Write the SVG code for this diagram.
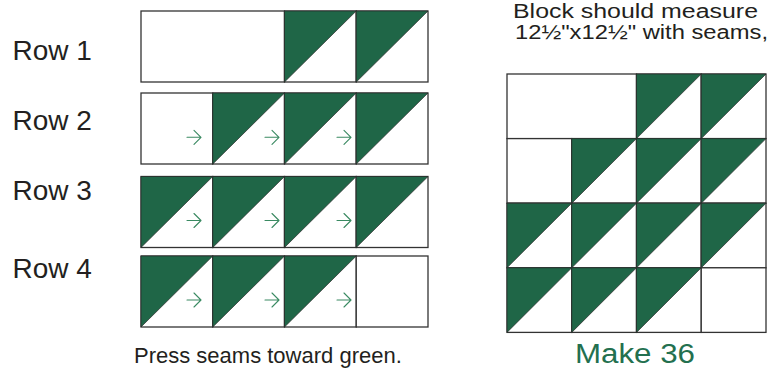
<svg xmlns="http://www.w3.org/2000/svg" width="772" height="370" viewBox="0 0 772 370">
<style>
.bg{fill:#ffffff}
.c{fill:#ffffff;stroke:#333333;stroke-width:1.3}
.g{fill:#1f6647;stroke:#2a2a2a;stroke-width:0.7;stroke-linejoin:miter}
.arr{fill:none;stroke:#3a8a62;stroke-width:1.1;stroke-linecap:round;stroke-linejoin:round}
.lbl{font-family:"Liberation Sans",Arial,sans-serif;fill:#231f20}
.row{font-size:28px}
.note{font-size:20px}
.press{font-size:22px}
.make{font-size:27px;fill:#23704f}
</style>
<defs>
<path id="arrow" class="arr" d="M0 0 H14 M7 -7 L14 0 L7 7"/>
</defs>
<rect class="bg" x="0" y="0" width="772" height="370"/>

<g id="labels">
<text class="lbl row" x="12.5" y="59.5">Row 1</text>
<text class="lbl row" x="12.5" y="130">Row 2</text>
<text class="lbl row" x="12.5" y="200">Row 3</text>
<text class="lbl row" x="12.5" y="277.5">Row 4</text>
<text class="lbl note" x="513" y="18" textLength="245" lengthAdjust="spacingAndGlyphs">Block should measure</text>
<text class="lbl note" x="515" y="39" textLength="253" lengthAdjust="spacingAndGlyphs">12½"x12½" with seams,</text>
<text class="lbl press" x="134" y="363">Press seams toward green.</text>
<text class="lbl make" x="575" y="363" textLength="120" lengthAdjust="spacingAndGlyphs">Make 36</text>
</g>

<g id="row1">
<rect class="c" x="141" y="11" width="143.5" height="71"/>
<rect class="c" x="284.5" y="11" width="71.75" height="71"/>
<polygon class="g" points="284.5,11 356.25,11 284.5,82"/>
<rect class="c" x="356.25" y="11" width="71.75" height="71"/>
<polygon class="g" points="356.25,11 428,11 356.25,82"/>
</g>

<g id="row2">
<rect class="c" x="141" y="93" width="71.75" height="71"/>
<rect class="c" x="212.75" y="93" width="71.75" height="71"/>
<polygon class="g" points="212.75,93 284.5,93 212.75,164"/>
<rect class="c" x="284.5" y="93" width="71.75" height="71"/>
<polygon class="g" points="284.5,93 356.25,93 284.5,164"/>
<rect class="c" x="356.25" y="93" width="71.75" height="71"/>
<polygon class="g" points="356.25,93 428,93 356.25,164"/>
</g>

<g id="row3">
<rect class="c" x="141" y="176.5" width="71.75" height="71"/>
<polygon class="g" points="141,176.5 212.75,176.5 141,247.5"/>
<rect class="c" x="212.75" y="176.5" width="71.75" height="71"/>
<polygon class="g" points="212.75,176.5 284.5,176.5 212.75,247.5"/>
<rect class="c" x="284.5" y="176.5" width="71.75" height="71"/>
<polygon class="g" points="284.5,176.5 356.25,176.5 284.5,247.5"/>
<rect class="c" x="356.25" y="176.5" width="71.75" height="71"/>
<polygon class="g" points="356.25,176.5 428,176.5 356.25,247.5"/>
</g>

<g id="row4">
<rect class="c" x="141" y="256" width="71.75" height="71"/>
<polygon class="g" points="141,256 212.75,256 141,327"/>
<rect class="c" x="212.75" y="256" width="71.75" height="71"/>
<polygon class="g" points="212.75,256 284.5,256 212.75,327"/>
<rect class="c" x="284.5" y="256" width="71.75" height="71"/>
<polygon class="g" points="284.5,256 356.25,256 284.5,327"/>
<rect class="c" x="356.25" y="256" width="71.75" height="71"/>
</g>

<g id="connectors">
<use href="#arrow" x="187" y="137.3"/>
<use href="#arrow" x="265" y="137.3"/>
<use href="#arrow" x="337" y="137.3"/>
<use href="#arrow" x="187" y="220.5"/>
<use href="#arrow" x="265" y="220.5"/>
<use href="#arrow" x="337" y="220.5"/>
<use href="#arrow" x="187" y="300"/>
<use href="#arrow" x="265" y="300"/>
<use href="#arrow" x="337" y="300"/>
</g>

<g id="block">
<rect class="c" x="507" y="74" width="129.5" height="64.6"/>
<rect class="c" x="636.5" y="74" width="64.75" height="64.6"/>
<polygon class="g" points="636.5,74 701.25,74 636.5,138.6"/>
<rect class="c" x="701.25" y="74" width="64.75" height="64.6"/>
<polygon class="g" points="701.25,74 766,74 701.25,138.6"/>

<rect class="c" x="507" y="138.6" width="64.75" height="64.6"/>
<rect class="c" x="571.75" y="138.6" width="64.75" height="64.6"/>
<polygon class="g" points="571.75,138.6 636.5,138.6 571.75,203.2"/>
<rect class="c" x="636.5" y="138.6" width="64.75" height="64.6"/>
<polygon class="g" points="636.5,138.6 701.25,138.6 636.5,203.2"/>
<rect class="c" x="701.25" y="138.6" width="64.75" height="64.6"/>
<polygon class="g" points="701.25,138.6 766,138.6 701.25,203.2"/>

<rect class="c" x="507" y="203.2" width="64.75" height="64.6"/>
<polygon class="g" points="507,203.2 571.75,203.2 507,267.8"/>
<rect class="c" x="571.75" y="203.2" width="64.75" height="64.6"/>
<polygon class="g" points="571.75,203.2 636.5,203.2 571.75,267.8"/>
<rect class="c" x="636.5" y="203.2" width="64.75" height="64.6"/>
<polygon class="g" points="636.5,203.2 701.25,203.2 636.5,267.8"/>
<rect class="c" x="701.25" y="203.2" width="64.75" height="64.6"/>
<polygon class="g" points="701.25,203.2 766,203.2 701.25,267.8"/>

<rect class="c" x="507" y="267.8" width="64.75" height="64.6"/>
<polygon class="g" points="507,267.8 571.75,267.8 507,332.4"/>
<rect class="c" x="571.75" y="267.8" width="64.75" height="64.6"/>
<polygon class="g" points="571.75,267.8 636.5,267.8 571.75,332.4"/>
<rect class="c" x="636.5" y="267.8" width="64.75" height="64.6"/>
<polygon class="g" points="636.5,267.8 701.25,267.8 636.5,332.4"/>
<rect class="c" x="701.25" y="267.8" width="64.75" height="64.6"/>
</g>
</svg>
